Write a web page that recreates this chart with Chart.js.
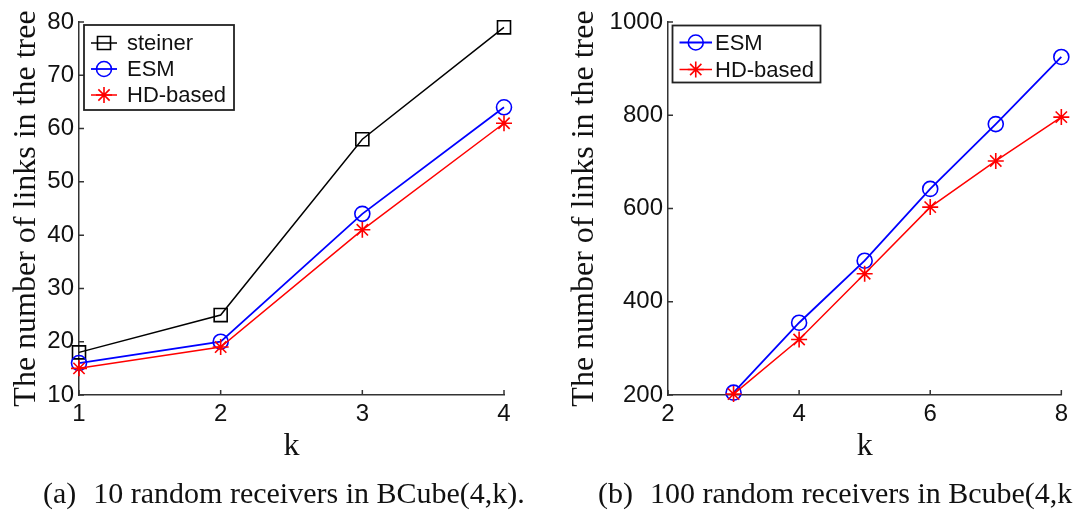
<!DOCTYPE html>
<html>
<head>
<meta charset="utf-8">
<title>Links in the tree</title>
<script src="https://cdn.jsdelivr.net/npm/chart.js@4.4.0/dist/chart.umd.min.js"></script>
<style>
  html, body { margin: 0; padding: 0; background: #fff; overflow: hidden; }
  body { width: 1073px; height: 513px; position: relative; overflow: hidden; }
  canvas { position: absolute; top: 0; }
  #chartA { left: 0; }
  #chartB { left: 540px; }
  .caption {
    position: absolute; top: 476px; white-space: nowrap;
    font-family: "Liberation Serif", "Times New Roman", serif;
    font-size: 30px; color: #111;
  }
  .caption .gap { display: inline-block; width: 17px; }
</style>
</head>
<body>
<canvas id="chartA" width="540" height="513"></canvas>
<canvas id="chartB" width="533" height="513"></canvas>
<div class="caption" style="left:43px">(a)<span class="gap"></span>10 random receivers in BCube(4,k).</div>
<div class="caption" style="left:598px">(b)<span class="gap"></span>100 random receivers in Bcube(4,k).</div>

<script>
// datos (a): 10 receptores, BCube(4,k)
const kA = [1, 2, 3, 4];
const steinerA = [18, 25, 58, 79];
const esmA = [16, 20, 44, 64];
const hdA = [15, 19, 41, 61];
const xTicksA = [1, 2, 3, 4];
const yTicksA = [10, 20, 30, 40, 50, 60, 70, 80];

// datos (b): 100 receptores
const kB = [3, 4, 5, 6, 7, 8];
const esmB = [205, 355, 488, 642, 781, 925];
const hdB = [202, 319, 460, 603, 702, 796];
const xTicksB = [2, 4, 6, 8];
const yTicksB = [200, 400, 600, 800, 1000];

const AXIS = '#333';
const SANS = '"Liberation Sans", Arial, sans-serif';
const SERIF = '"Liberation Serif", "Times New Roman", serif';

// ticks hacia adentro, estilo matlab
const tickInward = {
    id: 'tickInward',
    afterDraw(chart) {
        const { ctx, chartArea, scales } = chart;
        ctx.save();
        ctx.strokeStyle = AXIS;
        ctx.lineWidth = 1.5;
        ctx.beginPath();
        scales.x.ticks.forEach(t => {
            const px = scales.x.getPixelForValue(t.value);
            ctx.moveTo(px, chartArea.bottom);
            ctx.lineTo(px, chartArea.bottom - 5);
        });
        scales.y.ticks.forEach(t => {
            const py = scales.y.getPixelForValue(t.value);
            ctx.moveTo(chartArea.left, py);
            ctx.lineTo(chartArea.left + 5, py);
        });
        ctx.stroke();
        ctx.restore();
    }
};

// leyenda con recuadro dentro del area del grafico
const legendBox = {
    id: 'legendBox',
    afterDraw(chart, args, opts) {
        const ctx = chart.ctx;
        ctx.save();
        ctx.fillStyle = '#fff';
        ctx.fillRect(opts.x, opts.y, opts.w, opts.h);
        ctx.strokeStyle = '#222';
        ctx.lineWidth = 1.8;
        ctx.strokeRect(opts.x, opts.y, opts.w, opts.h);
        chart.data.datasets.forEach((ds, i) => {
            const cy = opts.rows[i];
            const mid = (opts.x0 + opts.x1) / 2;
            ctx.strokeStyle = ds.borderColor;
            ctx.lineWidth = ds.borderWidth;
            ctx.beginPath();
            ctx.moveTo(opts.x0, cy);
            ctx.lineTo(opts.x1, cy);
            ctx.stroke();
            ctx.fillStyle = 'rgba(0,0,0,0)';
            ctx.lineWidth = ds.pointBorderWidth;
            Chart.helpers.drawPoint(ctx, {
                pointStyle: ds.pointStyle,
                radius: ds.pointRadius,
                borderWidth: ds.pointBorderWidth,
                rotation: 0
            }, mid, cy);
            ctx.fillStyle = '#111';
            ctx.font = '22px ' + SANS;
            ctx.textBaseline = 'middle';
            ctx.fillText(ds.label, opts.textX, cy + 1);
        });
        ctx.restore();
    }
};

function serie(label, xs, ys, color, style, radius, width, order) {
    return {
        label: label,
        data: xs.map((x, i) => ({ x: x, y: ys[i] })),
        borderColor: color,
        borderWidth: width,
        pointStyle: style,
        pointRadius: radius,
        pointHoverRadius: radius,
        pointBorderColor: color,
        pointBackgroundColor: 'rgba(0,0,0,0)',
        pointBorderWidth: 1.6,
        tension: 0,
        clip: false,
        order: order
    };
}

function opciones(cfg) {
    return {
        responsive: false,
        animation: false,
        layout: { padding: { left: 0, top: 22, right: cfg.padRight, bottom: 0 } },
        plugins: {
            legend: { display: false },
            tooltip: { enabled: false },
            legendBox: cfg.legend
        },
        scales: {
            x: {
                type: 'linear',
                min: cfg.xTicks[0],
                max: cfg.xTicks[cfg.xTicks.length - 1],
                afterBuildTicks: s => { s.ticks = cfg.xTicks.map(v => ({ value: v })); },
                afterFit: s => { s.height = 118; },
                grid: { drawOnChartArea: false, drawTicks: false },
                border: { display: true, color: AXIS, width: 1.5 },
                ticks: {
                    color: '#111', font: { family: SANS, size: 24 }, padding: 5, maxRotation: 0,
                    callback: v => String(v)
                },
                title: {
                    display: true, text: 'k', color: '#111',
                    font: { family: SERIF, size: 32 },
                    padding: { top: 0, bottom: 47 }
                }
            },
            y: {
                type: 'linear',
                min: cfg.yTicks[0],
                max: cfg.yTicks[cfg.yTicks.length - 1],
                afterBuildTicks: s => { s.ticks = cfg.yTicks.map(v => ({ value: v })); },
                afterFit: s => { s.width = cfg.yWidth; },
                grid: { drawOnChartArea: false, drawTicks: false },
                border: { display: true, color: AXIS, width: 1.5 },
                ticks: {
                    color: '#111', font: { family: SANS, size: 24 }, padding: 5,
                    callback: v => String(v)
                },
                title: {
                    display: true, text: 'The number of links in the tree', color: '#111',
                    font: { family: SERIF, size: 32 },
                    padding: { top: cfg.titlePad, bottom: 0 }
                }
            }
        }
    };
}

new Chart(document.getElementById('chartA'), {
    type: 'line',
    data: {
        datasets: [
            serie('steiner', kA, steinerA, '#000000', 'rect', 9.2, 1.5, 3),
            serie('ESM', kA, esmA, '#0000ff', 'circle', 7.5, 1.8, 2),
            serie('HD-based', kA, hdA, '#ff0000', 'star', 8, 1.5, 1)
        ]
    },
    options: opciones({
        xTicks: xTicksA, yTicks: yTicksA, yWidth: 79, padRight: 36, titlePad: 7,
        legend: { x: 84, y: 25, w: 150, h: 85, rows: [43, 69, 95], x0: 91, x1: 117, textX: 127 }
    }),
    plugins: [tickInward, legendBox]
});

new Chart(document.getElementById('chartB'), {
    type: 'line',
    data: {
        datasets: [
            serie('ESM', kB, esmB, '#0000ff', 'circle', 7.5, 1.8, 2),
            serie('HD-based', kB, hdB, '#ff0000', 'star', 8, 1.5, 1)
        ]
    },
    options: opciones({
        xTicks: xTicksB, yTicks: yTicksB, yWidth: 128, padRight: 10, titlePad: 25,
        legend: { x: 132.5, y: 25.5, w: 148, h: 57, rows: [42.5, 69.5], x0: 139.5, x1: 172, textX: 175 }
    }),
    plugins: [tickInward, legendBox]
});
</script>
</body>
</html>
